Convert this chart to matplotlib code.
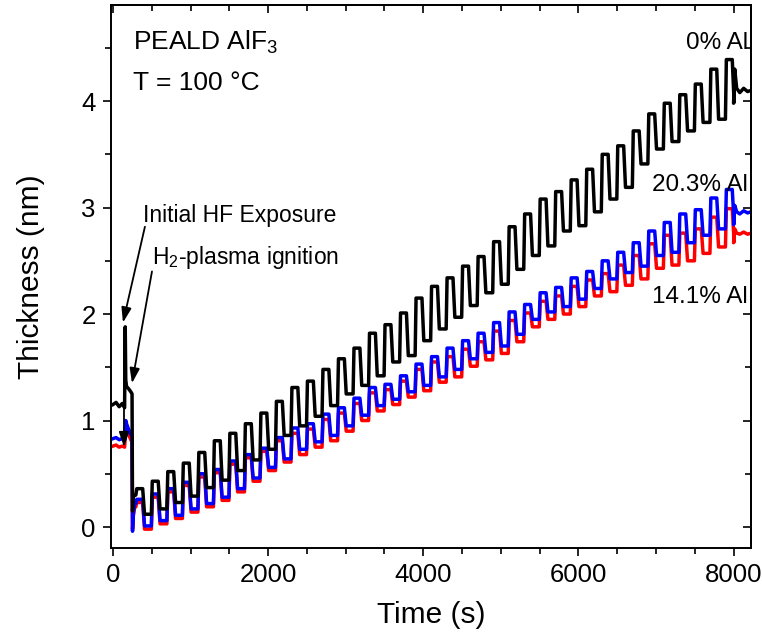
import matplotlib
matplotlib.use("Agg")
import matplotlib.pyplot as plt
from matplotlib.ticker import MultipleLocator

plt.rcParams['font.family'] = ['Liberation Sans', 'DejaVu Sans']
plt.rcParams['mathtext.fontset'] = 'custom'
plt.rcParams['mathtext.rm'] = 'Liberation Sans'
plt.rcParams['mathtext.it'] = 'Liberation Sans:italic'
plt.rcParams['mathtext.bf'] = 'Liberation Sans:bold'

# ---------------- data ----------------
# before the first ALD cycle (initial HF exposure and H2-plasma ignition)
pre_time = [0, 40, 80, 120, 150, 158, 165, 175, 200, 230, 246, 252, 262, 280]
black_pre = [1.15, 1.17, 1.13, 1.16, 1.12, 1.88, 1.38, 1.32, 1.30, 1.27, 1.25, 0.15, 0.28, 0.30]
blue_pre = [0.83, 0.84, 0.82, 0.83, 0.82, 0.90, 1.00, 0.97, 0.92, 0.87, 0.85, -0.04, 0.12, 0.22]
red_pre = [0.76, 0.77, 0.75, 0.76, 0.75, 0.84, 0.95, 0.92, 0.87, 0.82, 0.80, -0.02, 0.10, 0.19]

# start time (s) of each ALD cycle
cycle_start = [295, 495, 695, 895, 1095, 1295, 1495, 1695, 1895, 2095,
               2295, 2495, 2695, 2895, 3095, 3295, 3495, 3695, 3895, 4095,
               4295, 4495, 4695, 4895, 5095, 5295, 5495, 5695, 5895, 6095,
               6295, 6495, 6695, 6895, 7095, 7295, 7495, 7695, 7895]

# 0% Al (black): thickness after precursor step (peak) and at end of cycle (low)
black_peak = [0.36, 0.43, 0.52, 0.60, 0.70, 0.81, 0.88, 0.97, 1.07, 1.18,
              1.31, 1.37, 1.48, 1.58, 1.68, 1.82, 1.90, 2.01, 2.15, 2.26,
              2.34, 2.45, 2.54, 2.68, 2.82, 2.94, 3.08, 3.15, 3.26, 3.36,
              3.50, 3.58, 3.72, 3.88, 3.98, 4.06, 4.16, 4.30, 4.39]
black_low = [0.12, 0.17, 0.23, 0.29, 0.37, 0.44, 0.53, 0.63, 0.73, 0.86,
             0.95, 1.04, 1.14, 1.25, 1.33, 1.42, 1.55, 1.61, 1.75, 1.86,
             1.97, 2.08, 2.20, 2.28, 2.42, 2.55, 2.64, 2.78, 2.83, 2.96,
             3.08, 3.19, 3.41, 3.55, 3.62, 3.72, 3.80, 3.83, 3.99]

# 20.3% Al (blue)
blue_peak = [0.26, 0.31, 0.36, 0.42, 0.50, 0.54, 0.62, 0.68, 0.74, 0.84,
             0.93, 0.97, 1.06, 1.12, 1.21, 1.31, 1.34, 1.42, 1.53, 1.60,
             1.68, 1.75, 1.82, 1.92, 2.02, 2.09, 2.20, 2.25, 2.34, 2.40,
             2.50, 2.58, 2.67, 2.78, 2.86, 2.94, 2.98, 3.09, 3.17]
blue_low = [0.01, 0.06, 0.11, 0.17, 0.22, 0.28, 0.36, 0.46, 0.56, 0.64,
            0.73, 0.80, 0.86, 0.95, 1.05, 1.14, 1.20, 1.27, 1.33, 1.41,
            1.48, 1.58, 1.64, 1.70, 1.81, 1.95, 2.02, 2.07, 2.14, 2.24,
            2.33, 2.39, 2.45, 2.55, 2.58, 2.67, 2.74, 2.80, 2.85]

# 14.1% Al (red)
red_peak = [0.23, 0.28, 0.33, 0.39, 0.47, 0.51, 0.59, 0.65, 0.71, 0.81,
            0.88, 0.92, 1.01, 1.07, 1.16, 1.26, 1.29, 1.37, 1.48, 1.55,
            1.60, 1.67, 1.74, 1.84, 1.94, 2.01, 2.12, 2.17, 2.26, 2.32,
            2.38, 2.46, 2.55, 2.66, 2.74, 2.76, 2.80, 2.91, 2.99]
red_low = [-0.02, 0.03, 0.08, 0.14, 0.19, 0.25, 0.33, 0.43, 0.53, 0.61,
           0.68, 0.75, 0.81, 0.90, 1.00, 1.09, 1.15, 1.22, 1.28, 1.36,
           1.41, 1.51, 1.57, 1.63, 1.74, 1.88, 1.95, 2.00, 2.07, 2.17,
           2.21, 2.27, 2.33, 2.43, 2.46, 2.50, 2.57, 2.63, 2.68]

# after the last cycle
post_time = [8000, 8015, 8040, 8080, 8130, 8180, 8225]
black_post = [3.98, 4.30, 4.12, 4.08, 4.12, 4.09, 4.10]
blue_post = [2.84, 3.02, 2.96, 2.94, 2.97, 2.95, 2.96]
red_post = [2.67, 2.80, 2.76, 2.75, 2.77, 2.75, 2.76]

x_ticks = [0, 2000, 4000, 6000, 8000]
y_ticks = [0, 1, 2, 3, 4]

# step shape inside one cycle (s after cycle start): rise end, plateau end, drop end
RISE, HOLD, DROP = 12, 88, 112


def build(pre_v, peaks, lows, post_v):
    t = list(pre_time)
    v = list(pre_v)
    for s, p, l in zip(cycle_start, peaks, lows):
        t += [s, s + RISE, s + HOLD, s + DROP]
        v += [v[-1], p, p, l]
    t += post_time
    v += post_v
    return t, v


fig = plt.figure(figsize=(7.62, 6.36), dpi=100)
ax = fig.add_axes([0.1457, 0.1384, 0.8399, 0.8533])

lw = 2.5
for pre_v, pk, lo, po, col in [(red_pre, red_peak, red_low, red_post, '#ff0000'),
                               (blue_pre, blue_peak, blue_low, blue_post, '#0000ff'),
                               (black_pre, black_peak, black_low, black_post, '#000000')]:
    t, v = build(pre_v, pk, lo, po)
    ax.plot(t, v, color=col, lw=lw, solid_joinstyle='round')

ax.set_xlim(-25, 8225)
ax.set_ylim(-0.197, 4.90)
ax.set_xticks(x_ticks)
ax.set_yticks(y_ticks)
ax.xaxis.set_minor_locator(MultipleLocator(500))
ax.yaxis.set_minor_locator(MultipleLocator(0.5))
ax.tick_params(which='both', direction='out', top=False, right=False, width=1.2,
               labelsize=18.5, pad=5)
ax.tick_params(which='major', length=6)
ax.tick_params(which='minor', length=4)
sec_x = ax.secondary_xaxis('top')
sec_x.set_xticks(x_ticks)
sec_x.xaxis.set_minor_locator(MultipleLocator(500))
sec_x.tick_params(which='both', direction='in', labeltop=False, width=1.2)
sec_x.tick_params(which='major', length=6)
sec_x.tick_params(which='minor', length=4)
sec_y = ax.secondary_yaxis('right')
sec_y.set_yticks(y_ticks)
sec_y.yaxis.set_minor_locator(MultipleLocator(0.5))
sec_y.tick_params(which='both', direction='in', labelright=False, width=1.2)
sec_y.tick_params(which='major', length=6)
sec_y.tick_params(which='minor', length=4)
for sp in ax.spines.values():
    sp.set_linewidth(1.4)
sec_x.spines['top'].set_linewidth(1.4)
sec_y.spines['right'].set_linewidth(1.4)

ax.set_xlabel('Time (s)', fontsize=21.5, labelpad=10)
ax.set_ylabel('Thickness (nm)', fontsize=21.5, labelpad=26)

ax.text(258, 4.55, r'PEALD AlF$_3$', fontsize=19, va='center', ha='left')
ax.text(258, 4.17, 'T = 100 °C', fontsize=19, va='center', ha='left')
ax.text(8185, 4.55, '0% Al', fontsize=17.5, va='center', ha='right')
ax.text(8185, 3.21, '20.3% Al', fontsize=17.5, va='center', ha='right')
ax.text(8185, 2.16, '14.1% Al', fontsize=17.5, va='center', ha='right')

ax.text(387, 2.93, 'Initial HF Exposure', fontsize=16.5, va='center', ha='left')
ax.text(505, 2.53, r'H$_2$-plasma ignition', fontsize=16.5, va='center', ha='left')

arrow_kw = dict(arrowstyle='-|>,head_length=0.9,head_width=0.3', color='black', lw=1.3,
                shrinkA=0, shrinkB=0)
ax.annotate('', xy=(129, 1.92), xytext=(412, 2.82), arrowprops=arrow_kw)
ax.annotate('', xy=(142, 0.75), xytext=(142, 1.80), arrowprops=arrow_kw)
ax.annotate('', xy=(245, 1.35), xytext=(503, 2.40), arrowprops=arrow_kw)

fig.savefig('out.png', dpi=100)
